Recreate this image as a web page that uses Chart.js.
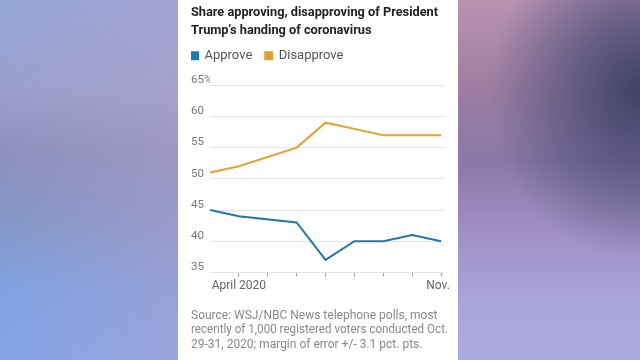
<!DOCTYPE html>
<html>
<head>
    <title>Trump coronavirus approval</title>
    <script src="https://cdn.jsdelivr.net/npm/chart.js"></script>
    <style>
        html, body { margin: 0; padding: 0; width: 640px; height: 360px; overflow: hidden; }
        #left { position: absolute; left: 0; top: 0; width: 178px; height: 360px;
            background:
                linear-gradient(to right, rgba(140,150,210,0) 0%, rgba(180,160,205,0.45) 100%),
                linear-gradient(to bottom, #93a6d6 0%, #9aa0cc 25%, #8c90bc 42%, #8496c6 60%, #80a2e0 80%, #84a6e6 100%);
        }
        #right { position: absolute; left: 458px; top: 0; width: 182px; height: 360px;
            background:
                radial-gradient(ellipse 150px 170px at 100% 25%, rgba(58,62,100,0.95) 0%, rgba(72,74,116,0.65) 45%, rgba(90,90,140,0) 100%),
                linear-gradient(to bottom, #b893b2 0%, #9c7ea0 25%, #8a78a8 45%, #a090c4 65%, #aaa6de 85%, #aaaae0 100%);
        }
        #panel { position: absolute; left: 178px; top: 0; width: 280px; height: 360px; background: #fff; }
    </style>
</head>
<body>
    <div id="left"></div>
    <div id="right"></div>
    <div id="panel"><canvas id="myChart" width="280" height="360"></canvas></div>

    <script>
        // poll dates as month number of 2020 (3 = March)
        var months = [3, 4, 6, 7, 8, 9, 10, 11];
        var approve = [45, 44, 43, 37, 40, 40, 41, 40];
        var disapprove = [51, 52, 55, 59, 58, 57, 57, 57];
        var xTicks = [4, 5, 6, 7, 8, 9, 10, 11];
        var xTickLabels = { 4: "April 2020", 11: "Nov.  " };
        var yTicks = [35, 40, 45, 50, 55, 60, 65];

        var blue = "#1f78b0";
        var orange = "#e5a033";

        Chart.defaults.font.family = "'Liberation Sans Narrow', Roboto, sans-serif";
        Chart.defaults.color = "#777";

        // extra room between legend and plot
        var legendGap = {
            id: "legendGap",
            beforeInit: function (chart) {
                var fit = chart.legend.fit;
                chart.legend.fit = function () {
                    fit.bind(chart.legend)();
                    this.height += 13;
                };
            }
        };

        var ctx = document.getElementById("myChart").getContext("2d");
        new Chart(ctx, {
            type: "line",
            data: {
                datasets: [
                    {
                        label: "Approve",
                        data: months.map((m, i) => ({ x: m, y: approve[i] })),
                        borderColor: blue,
                        backgroundColor: blue,
                        borderWidth: 2,
                        pointRadius: 0
                    },
                    {
                        label: "Disapprove",
                        data: months.map((m, i) => ({ x: m, y: disapprove[i] })),
                        borderColor: orange,
                        backgroundColor: orange,
                        borderWidth: 2,
                        pointRadius: 0
                    }
                ]
            },
            plugins: [legendGap],
            options: {
                responsive: false,
                animation: false,
                layout: { padding: { left: 13, right: 10, top: 4, bottom: 8 } },
                plugins: {
                    title: {
                        display: true,
                        align: "start",
                        text: ["Share approving, disapproving of President", "Trump\u2019s handing of coronavirus"],
                        color: "#222",
                        font: { size: 12.75, weight: "bold", lineHeight: 1.42 },
                        padding: { top: 0, bottom: 9 }
                    },
                    legend: {
                        display: true,
                        align: "start",
                        labels: {
                            boxWidth: 7,
                            boxHeight: 7,
                            padding: 0,
                            color: "#555",
                            font: { size: 13 },
                            generateLabels: function (chart) {
                                var items = Chart.defaults.plugins.legend.labels.generateLabels(chart);
                                items.forEach((it, i) => { if (i < items.length - 1) it.text += "    "; });
                                return items;
                            }
                        }
                    },
                    subtitle: {
                        display: true,
                        position: "bottom",
                        align: "start",
                        text: ["Source: WSJ/NBC News telephone polls, most",
                               "recently of 1,000 registered voters conducted Oct.",
                               "29-31, 2020; margin of error +/- 3.1 pct. pts."],
                        color: "#888",
                        font: { size: 12, lineHeight: 1.2 },
                        padding: { top: 14, bottom: 0 }
                    },
                    tooltip: { enabled: false }
                },
                scales: {
                    x: {
                        type: "linear",
                        min: 3,
                        max: 11.1,
                        afterBuildTicks: function (scale) {
                            scale.ticks = xTicks.map(v => ({ value: v }));
                        },
                        ticks: {
                            autoSkip: false,
                            maxRotation: 0,
                            padding: 2,
                            color: "#666",
                            font: { size: 12 },
                            callback: function (v) { return xTickLabels[v] || ""; }
                        },
                        grid: { drawOnChartArea: false, drawTicks: true, tickLength: 4, color: "#999" },
                        border: { display: false }
                    },
                    y: {
                        min: 35,
                        max: 65,
                        afterBuildTicks: function (scale) {
                            scale.ticks = yTicks.map(v => ({ value: v }));
                        },
                        afterFit: function (scale) { scale.width = 19; },
                        ticks: {
                            crossAlign: "far",
                            labelOffset: -5,
                            padding: 0,
                            color: "#777",
                            font: { size: 11.5 },
                            callback: function (v) { return v === 65 ? "65%" : v; }
                        },
                        grid: { color: "#e4e4e4", drawTicks: false },
                        border: { display: false }
                    }
                }
            }
        });
    </script>
</body>
</html>
